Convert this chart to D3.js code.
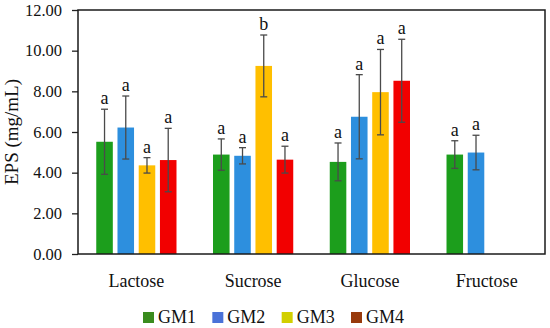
<!DOCTYPE html>
<html>
<head>
<meta charset="utf-8">
<script src="https://cdn.jsdelivr.net/npm/d3@7"></script>
<style>
html,body{margin:0;padding:0;background:#fff;}
svg text{font-family:"Liberation Serif","Times New Roman",serif !important;}
</style>
</head>
<body>
<svg id="chart" width="550" height="328"></svg>
<script>
const categories = ["Lactose", "Sucrose", "Glucose", "Fructose"];
const seriesNames = ["GM1", "GM2", "GM3", "GM4"];
const gm1 = [5.52, 4.89, 4.53, 4.89];
const gm2 = [6.22, 4.83, 6.75, 4.99];
const gm3 = [4.36, 9.25, 7.96, null];
const gm4 = [4.62, 4.64, 8.52, null];
const gm1Err = [1.60, 0.77, 0.93, 0.68];
const gm2Err = [1.55, 0.40, 2.07, 0.85];
const gm3Err = [0.38, 1.52, 2.10, null];
const gm4Err = [1.56, 0.66, 2.04, null];
const gm1Sig = ["a", "a", "a", "a"];
const gm2Sig = ["a", "a", "a", "a"];
const gm3Sig = ["a", "b", "a", null];
const gm4Sig = ["a", "a", "a", null];
const yTicks = [0, 2, 4, 6, 8, 10, 12];
const yLabel = "EPS (mg/mL)";

const barColors = ["#1c9e1c", "#2d8fde", "#ffbf00", "#f20000"];
const legendColors = ["#3a8c1e", "#4a72d8", "#d2cf00", "#983a0c"];

const values = [gm1, gm2, gm3, gm4];
const errs = [gm1Err, gm2Err, gm3Err, gm4Err];
const sigs = [gm1Sig, gm2Sig, gm3Sig, gm4Sig];

const rows = [];
categories.forEach((c, ci) => {
  seriesNames.forEach((s, si) => {
    if (values[si][ci] != null) {
      rows.push({cat: c, ser: s, si, v: values[si][ci], e: errs[si][ci], sig: sigs[si][ci]});
    }
  });
});

const svg = d3.select("#chart");
const L = 78, R = 545, T = 10, B = 254;

const x0 = d3.scaleBand().domain(categories).range([L, R]).paddingInner(0).paddingOuter(0);
const x1 = d3.scaleBand().domain(seriesNames).range([0, x0.bandwidth()]).paddingInner(0.22).paddingOuter(0.86);
const y = d3.scaleLinear().domain([0, 12]).range([B, T]);

// y axis
const yAxis = svg.append("g").attr("transform", `translate(${L},0)`)
  .call(d3.axisLeft(y).tickValues(yTicks).tickFormat(d3.format(".2f")).tickSize(6).tickPadding(10));
yAxis.select(".domain").remove();
yAxis.selectAll(".tick line").attr("stroke", "#222").attr("stroke-width", 1.3);
yAxis.selectAll(".tick text").attr("font-size", 16.5).attr("fill", "#111");

// x axis labels
const xAxis = svg.append("g").attr("transform", `translate(0,${B})`)
  .call(d3.axisBottom(x0).tickSize(0).tickPadding(20));
xAxis.select(".domain").remove();
xAxis.selectAll(".tick text").attr("font-size", 18).attr("fill", "#111");

// bars
svg.append("g").selectAll("rect").data(rows).join("rect")
  .attr("x", d => x0(d.cat) + x1(d.ser))
  .attr("width", x1.bandwidth())
  .attr("y", d => y(d.v))
  .attr("height", d => y(0) - y(d.v))
  .attr("fill", d => barColors[d.si]);

// error bars
const eg = svg.append("g").attr("stroke", "#4a4a4a").attr("stroke-width", 1.3);
rows.forEach(d => {
  const cx = x0(d.cat) + x1(d.ser) + x1.bandwidth() / 2;
  const y1 = y(d.v + d.e), y2 = y(d.v - d.e);
  eg.append("line").attr("x1", cx).attr("x2", cx).attr("y1", y1).attr("y2", y2);
  eg.append("line").attr("x1", cx - 3.5).attr("x2", cx + 3.5).attr("y1", y1).attr("y2", y1);
  eg.append("line").attr("x1", cx - 3.5).attr("x2", cx + 3.5).attr("y1", y2).attr("y2", y2);
});

// significance letters
svg.append("g").selectAll("text").data(rows).join("text")
  .attr("x", d => x0(d.cat) + x1(d.ser) + x1.bandwidth() / 2)
  .attr("y", d => y(d.v + d.e) - 5)
  .attr("text-anchor", "middle")
  .attr("font-size", 18)
  .attr("fill", "#111")
  .text(d => d.sig);

// frame
svg.append("rect").attr("x", L).attr("y", T).attr("width", R - L).attr("height", B - T)
  .attr("fill", "none").attr("stroke", "#1a1a1a").attr("stroke-width", 1.5);

// y label
svg.append("text")
  .attr("transform", `translate(18,${(T + B) / 2}) rotate(-90)`)
  .attr("text-anchor", "middle")
  .attr("font-size", 19)
  .attr("fill", "#111")
  .text(yLabel);

// legend
const legX = d3.scalePoint().domain(seriesNames).range([143, 351]);
const lg = svg.append("g").selectAll("g").data(seriesNames).join("g")
  .attr("transform", d => `translate(${legX(d)},312)`);
lg.append("rect").attr("width", 11).attr("height", 11).attr("fill", (d, i) => legendColors[i]);
lg.append("text").attr("x", 15).attr("y", 11).attr("font-size", 18).attr("fill", "#111").text(d => d);
</script>
</body>
</html>
